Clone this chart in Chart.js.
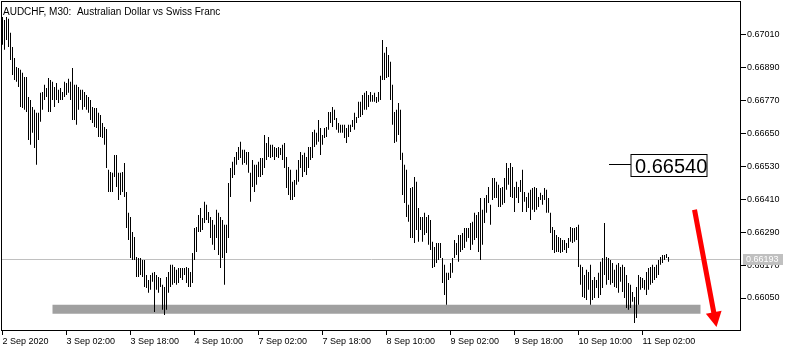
<!DOCTYPE html>
<html>
<head>
<meta charset="utf-8">
<script src="https://cdn.jsdelivr.net/npm/chart.js@4.4.0/dist/chart.umd.min.js"></script>
<style>
  html, body { margin: 0; padding: 0; background: #fff; }
  canvas { display: block; }
</style>
</head>
<body>
<canvas id="chart" width="794" height="352"></canvas>
<script>
// chart title (symbol, timeframe, description)
const chartTitle = 'AUDCHF, M30:  Australian Dollar vs Swiss Franc';

// M30 bars, prices in points (0.66193 -> 66193)
const barHigh = [
  67076,67065,67076,67069,67018,66966,66926,66893,66890,66883,66872,66857,66857,66784,66773,66747,66737,66726,66726,66799,
  66802,66828,66817,66853,66846,66839,66820,66835,66810,66817,66802,66839,66835,66850,66839,66890,66828,66828,66820,66810,
  66810,66802,66791,66784,66773,66747,66744,66744,66726,66718,66689,66674,66667,66518,66510,66507,66572,66572,66507,66507,
  66510,66543,66437,66361,66346,66291,66273,66200,66196,66196,66189,66189,66134,66116,66134,66142,66145,66134,66127,66123,
  66098,66090,66127,66145,66171,66171,66163,66153,66160,66160,66160,66160,66163,66160,66145,66214,66306,66309,66353,66379,
  66342,66401,66390,66364,66346,66335,66317,66372,66361,66346,66335,66317,66317,66470,66525,66547,66565,66583,66601,66620,
  66591,66591,66583,66583,66507,66554,66536,66536,66547,66561,66561,66645,66616,66638,66609,66609,66601,66598,66601,66598,
  66609,66616,66565,66528,66518,66474,66481,66518,66554,66583,66572,66580,66565,66601,66601,66656,66664,66653,66700,66671,
  66645,66671,66674,66729,66729,66747,66737,66707,66689,66682,66682,66682,66671,66682,66682,66700,66726,66711,66766,66766,
  66791,66799,66806,66791,66802,66791,66799,66784,66802,66861,66992,66945,66966,66937,66912,66828,66729,66737,66762,66737,
  66580,66536,66518,66390,66452,66455,66492,66474,66379,66346,66346,66361,66346,66353,66335,66255,66236,66251,66251,66251,
  66196,66171,66142,66142,66178,66196,66262,66251,66280,66280,66287,66306,66306,66306,66324,66328,66361,66353,66364,66415,
  66372,66415,66426,66455,66390,66488,66488,66474,66463,66452,66455,66488,66543,66525,66543,66528,66455,66474,66455,66481,
  66518,66437,66419,66434,66445,66452,66455,66452,66419,66434,66426,66452,66445,66415,66361,66309,66298,66280,66273,66269,
  66262,66262,66251,66269,66309,66306,66306,66309,66317,66171,66163,66134,66153,66145,66171,66116,66127,66116,66142,66182,
  66196,66324,66200,66196,66189,66178,66153,66171,66178,66163,66171,66163,66134,66105,66098,66072,66054,66090,66134,66127,
  66123,66116,66145,66160,66163,66171,66163,66171,66189,66200,66207,66207,66211,66200
];
const barLow = [
  66974,66956,66992,66966,66919,66864,66846,66839,66820,66747,66744,66737,66729,66627,66609,66653,66598,66536,66627,66693,
  66737,66773,66784,66729,66729,66773,66747,66773,66762,66773,66773,66784,66791,66799,66773,66700,66700,66682,66737,66773,
  66737,66747,66737,66726,66700,66689,66674,66671,66638,66638,66634,66609,66525,66437,66437,66437,66492,66455,66408,66426,
  66437,66419,66306,66262,66196,66189,66189,66127,66127,66134,66127,66090,66087,66069,66080,66109,65999,66080,66069,66090,
  66007,65988,66007,66069,66090,66098,66105,66098,66105,66123,66116,66134,66105,66090,66090,66105,66189,66218,66291,66291,
  66298,66324,66335,66324,66269,66244,66225,66269,66207,66160,66196,66098,66214,66269,66419,66488,66499,66536,66554,66561,
  66536,66543,66536,66507,66401,66455,66437,66463,66492,66492,66499,66525,66554,66565,66561,66565,66554,66565,66561,66572,
  66554,66525,66452,66426,66408,66408,66419,66463,66474,66525,66492,66510,66499,66525,66554,66561,66601,66609,66620,66572,
  66609,66634,66638,66664,66689,66674,66700,66664,66653,66653,66653,66634,66616,66638,66656,66674,66664,66689,66707,66711,
  66718,66737,66737,66747,66766,66766,66766,66762,66766,66773,66846,66846,66853,66857,66773,66682,66616,66620,66645,66554,
  66426,66397,66346,66328,66269,66269,66251,66298,66255,66298,66255,66280,66287,66244,66225,66160,66163,66178,66189,66196,
  66105,66061,66025,66116,66123,66142,66196,66207,66182,66218,66225,66233,66255,66269,66225,66244,66262,66269,66218,66189,
  66244,66324,66361,66397,66317,66408,66415,66415,66382,66382,66390,66397,66445,66463,66419,66415,66364,66415,66397,66437,
  66364,66401,66364,66379,66335,66372,66364,66372,66382,66408,66390,66408,66361,66361,66287,66225,66214,66218,66218,66214,
  66218,66225,66214,66233,66255,66251,66255,66262,66163,66098,66054,66050,66043,66080,66025,66043,66050,66087,66050,66061,
  66087,66134,66098,66116,66098,66105,66090,66087,66069,66109,66072,66050,66014,66007,66014,66036,65959,65977,66025,66080,
  66087,66080,66061,66080,66098,66105,66116,66123,66134,66171,66178,66189,66196,66182
];

// time axis labels and the bar index they sit on
const timeLabels = ['2 Sep 2020', '3 Sep 02:00', '3 Sep 18:00', '4 Sep 10:00', '7 Sep 02:00', '7 Sep 18:00',
  '8 Sep 10:00', '9 Sep 02:00', '9 Sep 18:00', '10 Sep 10:00', '11 Sep 02:00'];
const timeTickBars = [0, 32, 64, 96, 128, 160, 192, 224, 256, 288, 320];

// price axis labels (points)
const priceTicks = [66050, 66170, 66290, 66410, 66530, 66650, 66770, 66890, 67010];

// objects drawn on the chart
const lastPrice = 66193;
const supportLevel = 66009;
const supportBars = [25, 349];
const levelPrice = 66540;
const levelBar = 303;
const arrowFrom = [346, 66372];
const arrowTo = [357, 65944];

const FONT = "'Liberation Sans', Arial, sans-serif";
const fmt = v => (v / 100000).toFixed(5);

// MT4 style extras: bid line, frame, title, labels, arrow
const mtDecor = {
  id: 'mtDecor',
  beforeDatasetsDraw(chart) {
    const { ctx, chartArea: a, scales: { y } } = chart;
    const py = Math.round(y.getPixelForValue(lastPrice)) + 0.5;
    ctx.save();
    ctx.strokeStyle = '#c0c0c0';
    ctx.lineWidth = 1;
    ctx.beginPath();
    ctx.moveTo(a.left, py);
    ctx.lineTo(a.right, py);
    ctx.stroke();
    ctx.restore();
  },
  afterDraw(chart) {
    const { ctx, chartArea: a, scales: { x, y } } = chart;
    ctx.save();

    // frame
    ctx.strokeStyle = '#000';
    ctx.lineWidth = 1;
    ctx.strokeRect(a.left - 0.5, a.top - 0.5, a.right - a.left, a.bottom - a.top);

    // title
    ctx.fillStyle = '#000';
    ctx.font = '10px ' + FONT;
    ctx.textBaseline = 'alphabetic';
    ctx.fillText(chartTitle, 3, 15);

    // bid price box on the axis
    const py = Math.round(y.getPixelForValue(lastPrice));
    ctx.fillStyle = '#c0c0c0';
    ctx.fillRect(a.right + 2, py - 5, 40, 11);
    ctx.fillStyle = '#fff';
    ctx.font = '9px ' + FONT;
    ctx.textBaseline = 'middle';
    ctx.fillText(fmt(lastPrice), a.right + 5, py + 0.5);

    // level label with its leader line
    const lx = Math.round(x.getPixelForValue(levelBar));
    const ly = Math.round(y.getPixelForValue(levelPrice)) + 0.5;
    ctx.strokeStyle = '#000';
    ctx.beginPath();
    ctx.moveTo(lx, ly);
    ctx.lineTo(lx + 22, ly);
    ctx.stroke();
    ctx.fillStyle = '#fff';
    ctx.fillRect(lx + 22, ly - 10, 76, 22);
    ctx.strokeRect(lx + 22, ly - 10, 76, 22);
    ctx.fillStyle = '#000';
    ctx.font = '20px ' + FONT;
    ctx.textBaseline = 'alphabetic';
    ctx.fillText(fmt(levelPrice), lx + 26, ly + 8);

    // red arrow
    const x0 = x.getPixelForValue(arrowFrom[0]), y0 = y.getPixelForValue(arrowFrom[1]);
    const x1 = x.getPixelForValue(arrowTo[0]), y1 = y.getPixelForValue(arrowTo[1]);
    const len = Math.hypot(x1 - x0, y1 - y0);
    const ux = (x1 - x0) / len, uy = (y1 - y0) / len;
    const head = 15, half = 8;
    const bx = x1 - ux * head, by = y1 - uy * head;
    ctx.strokeStyle = '#ff0000';
    ctx.lineWidth = 5;
    ctx.lineCap = 'butt';
    ctx.beginPath();
    ctx.moveTo(x0, y0);
    ctx.lineTo(bx + ux, by + uy);
    ctx.stroke();
    ctx.fillStyle = '#ff0000';
    ctx.beginPath();
    ctx.moveTo(x1, y1);
    ctx.lineTo(bx - uy * half, by + ux * half);
    ctx.lineTo(bx + uy * half, by - ux * half);
    ctx.closePath();
    ctx.fill();

    ctx.restore();
  }
};

new Chart(document.getElementById('chart'), {
  type: 'bar',
  data: {
    datasets: [
      {
        type: 'bar',
        data: barHigh.map((h, i) => ({ x: i, y: [barLow[i], h] })),
        backgroundColor: '#000',
        borderWidth: 0,
        barThickness: 1,
        inflateAmount: 0,
        order: 0
      },
      {
        type: 'line',
        data: supportBars.map(b => ({ x: b, y: supportLevel })),
        borderColor: '#a0a0a0',
        borderWidth: 9,
        borderCapStyle: 'butt',
        pointRadius: 0,
        order: 1
      }
    ]
  },
  options: {
    responsive: false,
    animation: false,
    devicePixelRatio: 1,
    layout: { padding: { left: 2, top: 2, right: 0, bottom: 0 } },
    plugins: { legend: { display: false }, tooltip: { enabled: false } },
    scales: {
      x: {
        type: 'linear',
        min: -0.25,
        max: 369.25,
        offset: false,
        border: { display: false },
        grid: { drawOnChartArea: false, drawTicks: true, tickLength: 4, color: '#000', offset: false },
        afterBuildTicks: s => { s.ticks = timeTickBars.map(v => ({ value: v })); },
        afterFit: s => { s.height = 21; s.paddingLeft = 0; s.paddingRight = 0; },
        ticks: {
          autoSkip: false,
          maxRotation: 0,
          align: 'start',
          padding: 1,
          color: '#000',
          font: { family: FONT, size: 9 },
          callback: v => timeLabels[timeTickBars.indexOf(v)]
        }
      },
      y: {
        type: 'linear',
        position: 'right',
        min: 65929.6,
        max: 67130.45,
        border: { display: false },
        grid: { drawOnChartArea: false, tickLength: 5, color: '#000' },
        afterBuildTicks: s => { s.ticks = priceTicks.map(v => ({ value: v })); },
        afterFit: s => { s.width = 53; s.paddingTop = 0; s.paddingBottom = 0; },
        ticks: {
          padding: 1,
          color: '#000',
          font: { family: FONT, size: 9 },
          callback: v => fmt(v)
        }
      }
    }
  },
  plugins: [mtDecor]
});
</script>
</body>
</html>
